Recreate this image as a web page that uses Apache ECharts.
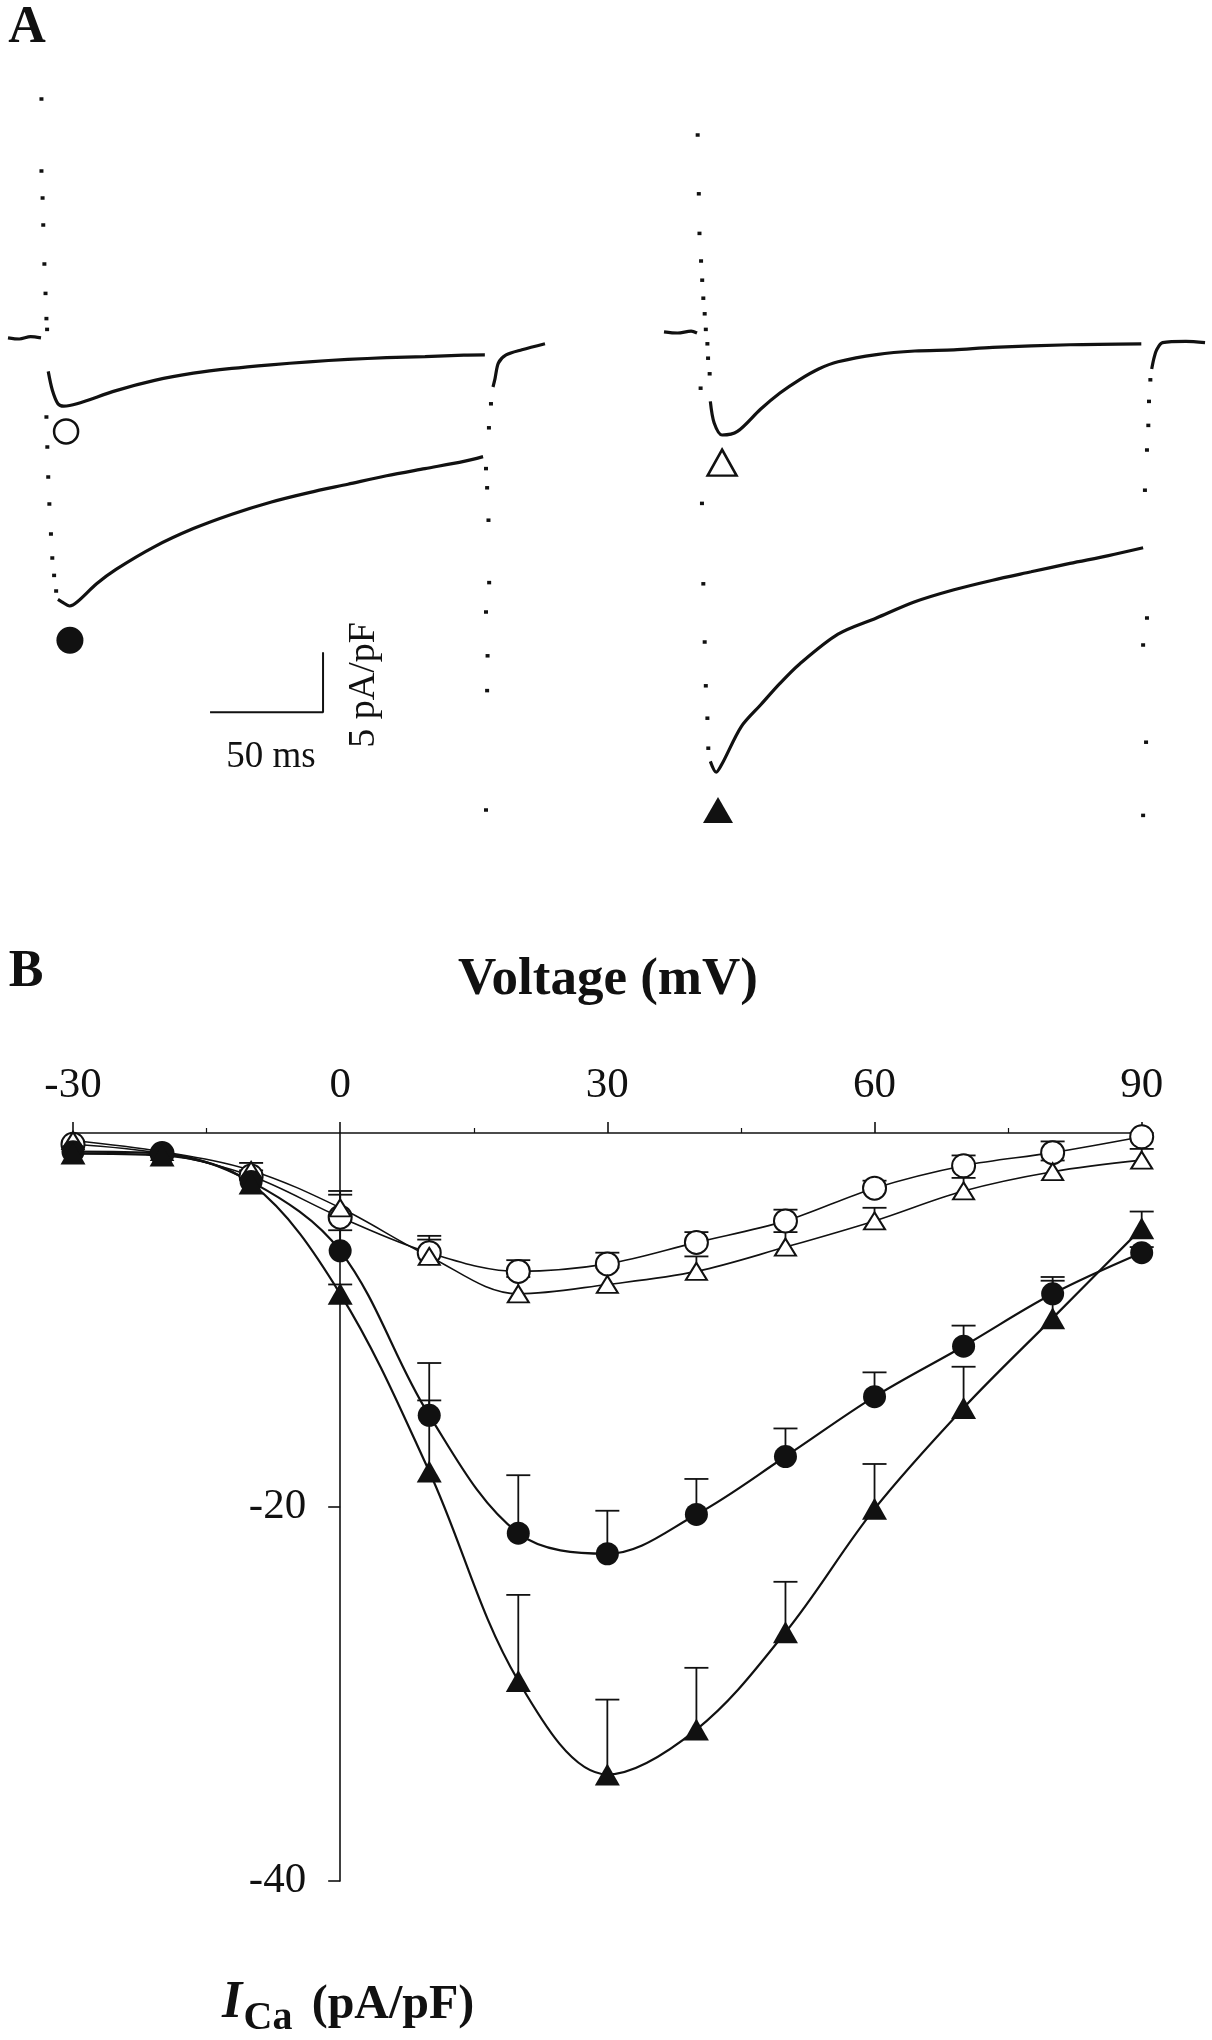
<!DOCTYPE html>
<html>
<head>
<meta charset="utf-8">
<script src="https://cdn.jsdelivr.net/npm/echarts@6/dist/echarts.min.js"></script>
<style>
  html, body { margin: 0; padding: 0; background: #fff; }
  #fig { width: 1212px; height: 2040px; }
</style>
</head>
<body>
<div id="fig"></div>
<script>
// ---- panel A: current traces, [time ms, current pA/pF] ----
let leftBase = [[0, 0.1], [5, 0.0], [10, 0.2], [14.6, 0.1]]
let leftOnDots = [[14.8, 20], [14.8, 14], [15.3, 11.75], [15.6, 9.5], [16.1, 6.25], [16.6, 3.8], [17.0, 1.7], [17.3, 0.8],
    [17.0, -6.5], [17.4, -9], [17.8, -11.5], [18.3, -13.75], [19.0, -16.25], [19.6, -18.25], [20.4, -19.7], [21.3, -21]]
let leftOpen = [[17.8, -2.7], [19.6, -4.25], [22.1, -5.4], [24.7, -5.6], [30.5, -5.4], [47.8, -4.3], [64.9, -3.45], [82, -2.85],
    [99, -2.45], [116.2, -2.15], [133.2, -1.9], [150.4, -1.7], [167.5, -1.56], [184.5, -1.47], [201.7, -1.35], [211, -1.33]]
let leftFilled = [[22.1, -21.7], [23.8, -21.9], [27.3, -22.25], [30.7, -21.9], [39.2, -20.4], [47.8, -19.2], [64.9, -17.3], [82, -15.8],
    [99.1, -14.6], [116.2, -13.6], [133.2, -12.8], [150.4, -12.1], [167.5, -11.4], [184.5, -10.8], [201.7, -10.2], [210.2, -9.8]]
let leftOffDots = [[211.5, -10.8], [212, -12.4], [212.6, -15.1], [212.9, -20.3], [211.5, -22.75], [212.2, -26.4], [212, -29.3],
    [211.5, -39.25], [212.8, -7.4], [213.7, -5.4]]
let leftTail = [[214.6, -4.0], [215.5, -3.3], [217, -2], [220.4, -1.33], [227.4, -0.9], [237.6, -0.4]]

let rightBase = [[0, 0.1], [6, 0], [12, 0.15], [14.6, 0]]
let rightOnDots = [[14.9, 16.5], [15.4, 11.6], [15.7, 8.3], [16.4, 6.0], [16.9, 4.4], [17.4, 2.9], [18.0, 1.6], [18.5, 0.3],
    [19.2, -0.9], [19.5, -2.1], [20.2, -3.4], [16.2, -4.6],
    [16.8, -14.2], [17.4, -20.9], [18, -25.75], [18.5, -29.4], [19.2, -32.1], [19.6, -34.6]]
let rightOpen = [[20.5, -5.7], [22.2, -7.5], [25.7, -8.5], [32.5, -8.2], [42.7, -6.35], [51.3, -5], [59.9, -3.9], [68.4, -3.0],
    [77, -2.4], [94, -1.8], [111, -1.5], [128.3, -1.4], [145.4, -1.2], [179.6, -0.98], [211.2, -0.9]]
let rightFilled = [[20.5, -35.7], [23.1, -36.6], [25.7, -35.9], [34.2, -32.8], [42.7, -31], [51.3, -29.2], [59.9, -27.6], [77, -25.1],
    [94, -23.75], [111, -22.4], [128.3, -21.4], [145.4, -20.6], [162.4, -19.9], [179.6, -19.2], [196.7, -18.55], [212, -17.9]]
let rightOffDots = [[213.7, -9.75], [212.8, -13.1], [213.7, -23.75], [212, -26], [213.3, -34.1], [212, -40.2],
    [214.3, -7.7], [214.6, -5.7], [215.2, -3.9]]
let rightTail = [[215.8, -3.0], [216.8, -2.1], [218, -1.4], [220.6, -0.8], [230.9, -0.7], [239.4, -0.8]]

// marker symbols next to the traces
let leftMarkers = { open: [25.7, -7.7], filled: [27.4, -25.1] }
let rightMarkers = { open: [25.7, -10.8], filled: [23.9, -39.75] }
// scale bar: 50 ms x 5 pA/pF
let scaleBar = [[89.4, -31.1], [139.4, -31.1], [139.4, -26.1]]

// ---- panel B: I-V relation ----
let voltage = [-30, -20, -10, 0, 10, 20, 30, 40, 50, 60, 70, 80, 90]
let openCircle = [-0.6, -1.1, -2.3, -4.5, -6.4, -7.4, -7.0, -5.85, -4.7, -2.95, -1.75, -1.05, -0.2]
let openCircleErr = [0, 0, 0.3, 1.2, 0.7, 0.6, 0.6, 0.55, 0.6, 0.4, 0.55, 0.6, 0.2]
let openTri = [-0.4, -1.0, -2.0, -4.0, -6.6, -8.6, -8.1, -7.4, -6.1, -4.7, -3.1, -2.07, -1.45]
let openTriErr = [0, 0, 0.4, 0.9, 1.1, 0.9, 0.9, 0.8, 0.8, 0.7, 0.7, 0.6, 0.6]
let filledCircle = [-1.0, -1.1, -2.6, -6.3, -15.1, -21.4, -22.5, -20.4, -17.3, -14.1, -11.4, -8.6, -6.4]
let filledCircleErr = [0, 0, 0.2, 1.1, 2.8, 3.1, 2.3, 1.9, 1.5, 1.3, 1.1, 0.9, 0.3]
let filledTri = [-1.1, -1.2, -2.7, -8.6, -18.1, -29.3, -34.3, -31.9, -26.7, -20.1, -14.7, -9.9, -5.1]
let filledTriErr = [0, 0, 0.2, 0.5, 3.8, 4.6, 4.0, 3.3, 2.7, 2.4, 2.2, 2.0, 0.9]
let xTicks = [-30, 0, 30, 60, 90]
let yTicks = [-40, -20]

const ink = '#111'
const serif = '"Liberation Serif", "Times New Roman", serif'

function zip(xs, ys) {
    return xs.map(function (x, i) { return [x, ys[i]] })
}
function withErr(ys, es) {
    return voltage.map(function (v, i) { return [v, ys[i], es[i]] })
}

function errBar(params, api) {
    let x = api.value(0), m = api.value(1), e = api.value(2)
    if (!e) return null
    let p0 = api.coord([x, m])
    let p1 = api.coord([x, m + e])
    let hw = 12
    let st = { stroke: ink, lineWidth: 1.8 }
    return {
        type: 'group',
        children: [
            { type: 'line', shape: { x1: p0[0], y1: p0[1], x2: p1[0], y2: p1[1] }, style: st },
            { type: 'line', shape: { x1: p1[0] - hw, y1: p1[1], x2: p1[0] + hw, y2: p1[1] }, style: st }
        ]
    }
}

function traceLine(idx, data) {
    return {
        type: 'line', xAxisIndex: idx, yAxisIndex: idx, data: data,
        smooth: 0.3, symbol: 'none', silent: true,
        lineStyle: { color: ink, width: 3.2 }
    }
}
function traceDots(idx, data) {
    return {
        type: 'scatter', xAxisIndex: idx, yAxisIndex: idx, data: data,
        symbol: 'rect', symbolSize: [4, 3.5], silent: true,
        itemStyle: { color: ink, opacity: 1 }
    }
}
function marker(idx, pt, symbol, size, filled) {
    return {
        type: 'scatter', xAxisIndex: idx, yAxisIndex: idx, data: [pt],
        symbol: symbol, symbolSize: size, silent: true,
        itemStyle: filled ? { color: ink, opacity: 1 } : { color: '#fff', borderColor: ink, borderWidth: 2.5, opacity: 1 }
    }
}
function ivLine(ys, symbol, size, filled, width) {
    return {
        type: 'line', xAxisIndex: 2, yAxisIndex: 2, data: zip(voltage, ys),
        smooth: 0.35, symbol: symbol, symbolSize: size, showAllSymbol: true, silent: true, z: 3,
        lineStyle: { color: ink, width: width },
        itemStyle: filled ? { color: ink, borderColor: ink, borderWidth: 0 } : { color: '#fff', borderColor: ink, borderWidth: 2 }
    }
}
function ivErr(ys, es) {
    return {
        type: 'custom', xAxisIndex: 2, yAxisIndex: 2, data: withErr(ys, es),
        renderItem: errBar, silent: true, z: 2
    }
}

let hiddenX = function (idx) {
    return { gridIndex: idx, type: 'value', min: 0, max: 240, show: false }
}
let hiddenY = function (idx) {
    return { gridIndex: idx, type: 'value', min: -42, max: 25, show: false }
}

let chart = echarts.init(document.querySelector('#fig'), null, { renderer: 'canvas' })
let option = {
    backgroundColor: '#fff',
    animation: false,
    grid: [
        { left: 8, top: 39, width: 542.4, height: 804 },
        { left: 664, top: 33, width: 542.4, height: 804 },
        { left: 73, top: 1133, width: 1068.7, height: 748 }
    ],
    xAxis: [
        hiddenX(0),
        hiddenX(1),
        {
            gridIndex: 2, type: 'value', min: -30, max: 90, interval: 30, position: 'top',
            axisLine: { show: true, onZero: false, lineStyle: { color: ink, width: 1.6 } },
            axisTick: { show: true, length: 11, customValues: xTicks, lineStyle: { color: ink, width: 1.6 } },
            minorTick: { show: true, splitNumber: 2, length: 5, lineStyle: { color: ink, width: 1.2 } },
            axisLabel: { customValues: xTicks, fontFamily: serif, fontSize: 43, color: ink, margin: 26 },
            splitLine: { show: false }
        }
    ],
    yAxis: [
        hiddenY(0),
        hiddenY(1),
        {
            // axis drawn at V = 0: 30 mV of 120 mV across the grid width
            gridIndex: 2, type: 'value', min: -40, max: 0, interval: 20, offset: -1068.7 * 30 / 120,
            axisLine: { show: true, onZero: false, lineStyle: { color: ink, width: 1.6 } },
            axisTick: { show: true, length: 12, customValues: yTicks, lineStyle: { color: ink, width: 1.6 } },
            axisLabel: { customValues: yTicks, fontFamily: serif, fontSize: 43, color: ink, margin: 34 },
            splitLine: { show: false }
        }
    ],
    graphic: [
        { type: 'text', x: 27, y: 29, style: { text: 'A', fontFamily: serif, fontWeight: 'bold', fontSize: 52, fill: ink, align: 'center', verticalAlign: 'middle' } },
        { type: 'text', x: 26, y: 973, style: { text: 'B', fontFamily: serif, fontWeight: 'bold', fontSize: 52, fill: ink, align: 'center', verticalAlign: 'middle' } },
        { type: 'text', x: 608, y: 980, style: { text: 'Voltage (mV)', fontFamily: serif, fontWeight: 'bold', fontSize: 53, fill: ink, align: 'center', verticalAlign: 'middle' } },
        { type: 'text', x: 271, y: 757, style: { text: '50 ms', fontFamily: serif, fontSize: 37, fill: ink, align: 'center', verticalAlign: 'middle' } },
        { type: 'text', x: 364, y: 685, rotation: Math.PI / 2, style: { text: '5 pA/pF', fontFamily: serif, fontSize: 38, fill: ink, align: 'center', verticalAlign: 'middle' } },
        { type: 'text', x: 232, y: 2004, style: { text: 'I', fontFamily: serif, fontStyle: 'italic', fontWeight: 'bold', fontSize: 52, fill: ink, align: 'center', verticalAlign: 'middle' } },
        { type: 'text', x: 268, y: 2019, style: { text: 'Ca', fontFamily: serif, fontWeight: 'bold', fontSize: 40, fill: ink, align: 'center', verticalAlign: 'middle' } },
        { type: 'text', x: 393, y: 2006, style: { text: '(pA/pF)', fontFamily: serif, fontWeight: 'bold', fontSize: 48, fill: ink, align: 'center', verticalAlign: 'middle' } }
    ],
    series: [
        // left traces (open circle / filled circle)
        traceLine(0, leftBase),
        traceDots(0, leftOnDots),
        traceLine(0, leftOpen),
        traceLine(0, leftFilled),
        traceDots(0, leftOffDots),
        traceLine(0, leftTail),
        marker(0, leftMarkers.open, 'circle', 24, false),
        marker(0, leftMarkers.filled, 'circle', 27, true),
        {
            type: 'line', xAxisIndex: 0, yAxisIndex: 0, data: scaleBar, symbol: 'none', silent: true,
            lineStyle: { color: ink, width: 2 }
        },
        // right traces (open triangle / filled triangle)
        traceLine(1, rightBase),
        traceDots(1, rightOnDots),
        traceLine(1, rightOpen),
        traceLine(1, rightFilled),
        traceDots(1, rightOffDots),
        traceLine(1, rightTail),
        marker(1, rightMarkers.open, 'triangle', [29, 26], false),
        marker(1, rightMarkers.filled, 'triangle', [30, 26], true),
        // I-V curves
        ivErr(openCircle, openCircleErr),
        ivErr(openTri, openTriErr),
        ivErr(filledCircle, filledCircleErr),
        ivErr(filledTri, filledTriErr),
        ivLine(openCircle, 'circle', 23, false, 1.6),
        ivLine(openTri, 'triangle', [21, 17], false, 1.6),
        ivLine(filledCircle, 'circle', 23, true, 2.2),
        ivLine(filledTri, 'triangle', [25, 22], true, 2.2)
    ]
}
chart.setOption(option)
</script>
</body>
</html>
